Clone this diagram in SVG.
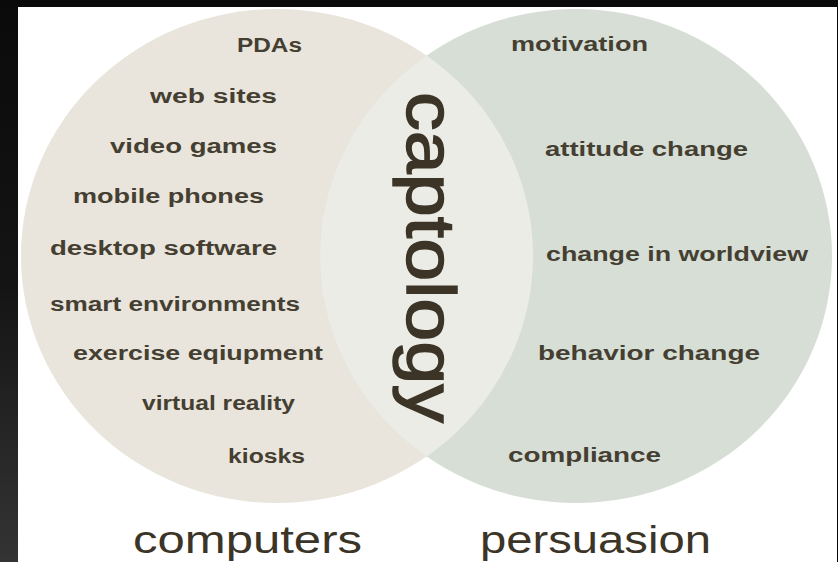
<svg xmlns="http://www.w3.org/2000/svg" width="838" height="562" viewBox="0 0 838 562">
<style>
.item{font-family:"Liberation Sans",Arial,sans-serif;font-weight:bold;font-size:20px;fill:#453f32;}
.big{font-family:"Liberation Sans",Arial,sans-serif;font-size:38px;fill:#3b3427;}
.cap{font-family:"Liberation Sans",Arial,sans-serif;font-size:68px;fill:#3b3427;stroke:#3b3427;stroke-width:1.5px;}
</style>
<defs>
<linearGradient id="strip" x1="0" y1="0" x2="0" y2="1">
<stop offset="0" stop-color="#0a0a0a"/>
<stop offset="0.5" stop-color="#141414"/>
<stop offset="1" stop-color="#343434"/>
</linearGradient>
<clipPath id="leftClip"><ellipse cx="277" cy="256" rx="256" ry="247"/></clipPath>
</defs>
<rect x="0" y="0" width="838" height="562" fill="#0a0a0a"/>
<rect x="0" y="0" width="18" height="562" fill="url(#strip)"/>
<rect x="18" y="7" width="819" height="555" fill="#ffffff"/>
<g id="computers">
<ellipse cx="277" cy="256" rx="256" ry="247" fill="#e9e5dc"/>
<text class="item" x="237" y="52" textLength="65" lengthAdjust="spacingAndGlyphs">PDAs</text>
<text class="item" x="150" y="103" textLength="127" lengthAdjust="spacingAndGlyphs">web sites</text>
<text class="item" x="110" y="153" textLength="167" lengthAdjust="spacingAndGlyphs">video games</text>
<text class="item" x="73" y="203" textLength="191" lengthAdjust="spacingAndGlyphs">mobile phones</text>
<text class="item" x="50" y="255" textLength="227" lengthAdjust="spacingAndGlyphs">desktop software</text>
<text class="item" x="50" y="311" textLength="250" lengthAdjust="spacingAndGlyphs">smart environments</text>
<text class="item" x="73" y="360" textLength="250" lengthAdjust="spacingAndGlyphs">exercise eqiupment</text>
<text class="item" x="142" y="410" textLength="153" lengthAdjust="spacingAndGlyphs">virtual reality</text>
<text class="item" x="228" y="463" textLength="77" lengthAdjust="spacingAndGlyphs">kiosks</text>
<text class="big" x="133" y="553" textLength="229" lengthAdjust="spacingAndGlyphs">computers</text>
</g>
<g id="persuasion">
<ellipse cx="576" cy="256" rx="256" ry="247" fill="#d7ded6"/>
<text class="item" x="511" y="51" textLength="137" lengthAdjust="spacingAndGlyphs">motivation</text>
<text class="item" x="545" y="156" textLength="203" lengthAdjust="spacingAndGlyphs">attitude change</text>
<text class="item" x="546" y="261" textLength="262" lengthAdjust="spacingAndGlyphs">change in worldview</text>
<text class="item" x="538" y="360" textLength="222" lengthAdjust="spacingAndGlyphs">behavior change</text>
<text class="item" x="508" y="462" textLength="153" lengthAdjust="spacingAndGlyphs">compliance</text>
<text class="big" x="480" y="553" textLength="231" lengthAdjust="spacingAndGlyphs">persuasion</text>
</g>
<g id="captology">
<ellipse cx="576" cy="256" rx="256" ry="247" fill="#ecece6" clip-path="url(#leftClip)"/>
<text class="cap" transform="translate(407,92) rotate(90)" x="0" y="0" textLength="331" lengthAdjust="spacingAndGlyphs">captology</text>
</g>
<g id="connectors"></g>
</svg>
